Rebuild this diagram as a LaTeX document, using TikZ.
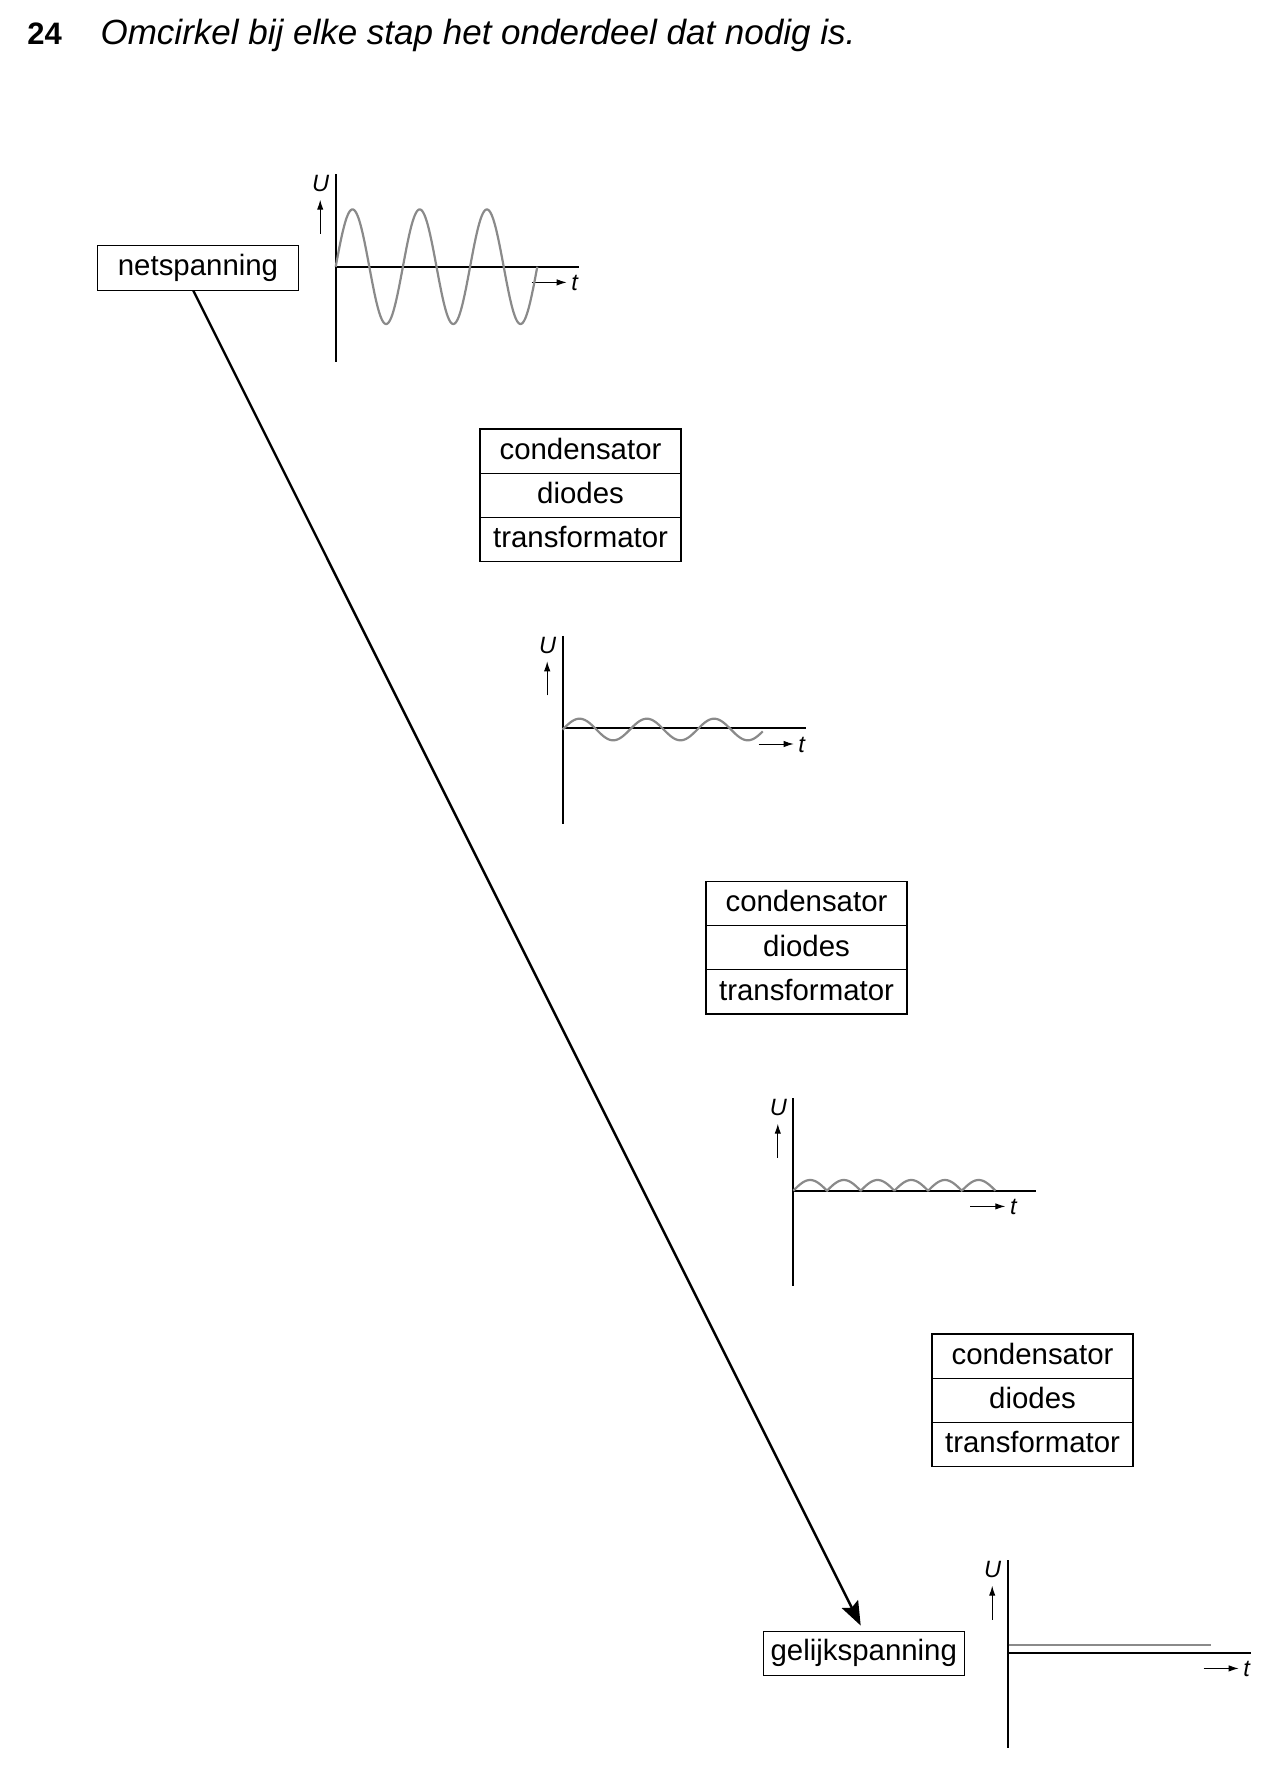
\documentclass[tikz,border=0pt]{standalone}
\usepackage{fontspec}
\setmainfont{Liberation Sans}
\usetikzlibrary{arrows.meta}
\definecolor{wavegray}{RGB}{138,138,138}
\newcommand\mygraph[4]{%
  \draw[axline] (#1,#2-92.5) -- (#1,#2+95.6);
  \draw[axline] (#1,#2) -- (#1+243,#2);
  \node[axlab] (#4U) at (#1-15,#2-83) {U};
  \coordinate (#4ua) at (#1-15.5,#2-33);
  \coordinate (#4ub) at (#1-15.5,#2-67);
  \draw[uparr] (#4ua) -- (#4ub);
  \node[axlab] (#4t) at (#1+#3,#2+16.5) {t};
  \draw[uparr] ([xshift=-21.5pt,yshift=0.4pt]#4t.center) -- ([xshift=-4pt,yshift=0.4pt]#4t.center);
}
\begin{document}
\begin{tikzpicture}[x=0.5pt,y=-0.5pt,
  cell/.style={draw,line width=0.5pt,minimum width=100.5pt,minimum height=22.1pt,inner sep=0pt,outer sep=0pt,text height=10.5pt,text depth=2.2pt,font=\fontsize{14.7}{16}\selectfont},
  boxrim/.style={line width=0.85pt},
  endbox/.style={draw,line width=0.55pt,minimum width=100.7pt,minimum height=22.1pt,inner sep=0pt,font=\fontsize{14.7}{16}\selectfont},
  axline/.style={line width=1pt},
  wave/.style={draw=wavegray,line width=1.1pt},
  uparr/.style={line width=0.5pt,-{Latex[length=5pt,width=3.2pt]}},
  axlab/.style={font=\fontsize{11.8}{13}\itshape\selectfont,inner sep=0pt},
  mainarrow/.style={line width=1.2pt,-{Stealth[length=12pt,width=9pt,inset=2pt]}}
]
\useasboundingbox (0,0) rectangle (1272,1782);

% title
\node[anchor=base west,inner sep=0pt,font=\fontsize{15.5}{18}\bfseries\selectfont] (num) at (27,44.2) {24};
\node[anchor=base west,inner sep=0pt,font=\fontsize{17.5}{20}\itshape\selectfont] (quest) at (100.2,44.2) {Omcirkel bij elke stap het onderdeel dat nodig is.};

% start and end boxes
\node[endbox] (net) at (198,268) {netspanning};
\node[endbox] (gel) at (863.8,1653.2) {gelijkspanning};

% choice boxes
\node[cell] (c1) at (580.5,451.1) {condensator};
\node[cell,anchor=north] (d1) at (c1.south) {diodes};
\node[cell,anchor=north] (t1) at (d1.south) {transformator};
\draw[boxrim] (c1.north west) rectangle (t1.south east);

\node[cell] (c2) at (806.5,903.6) {condensator};
\node[cell,anchor=north] (d2) at (c2.south) {diodes};
\node[cell,anchor=north] (t2) at (d2.south) {transformator};
\draw[boxrim] (c2.north west) rectangle (t2.south east);

\node[cell] (c3) at (1032.5,1356.1) {condensator};
\node[cell,anchor=north] (d3) at (c3.south) {diodes};
\node[cell,anchor=north] (t3) at (d3.south) {transformator};
\draw[boxrim] (c3.north west) rectangle (t3.south east);

% graphs
\mygraph{335.7}{266.7}{239}{ga}
\draw[wave] plot[domain=0:201.6,samples=240] ({\x+335.7},{266.7-57.3*sin(\x/67.2*360)});

\mygraph{562.7}{728.3}{239}{gb}
\draw[wave] plot[domain=0:200,samples=240] ({\x+562.7},{729.5-10.8*sin(\x/67.3*360)});

\mygraph{793.3}{1190.7}{220}{gc}
\draw[wave] plot[domain=0:202.2,samples=300] ({\x+793.3},{1190.7-10.7*abs(sin(\x/33.7*180))});

\mygraph{1007.7}{1652.7}{239}{gd}
\draw[wave] (1008.5,1645) -- (1210.7,1645);

% main arrow
\draw[mainarrow] ([xshift=-2.35pt]net.south) -- ([xshift=-1.55pt,yshift=2.5pt]gel.north);
\end{tikzpicture}
\end{document}
